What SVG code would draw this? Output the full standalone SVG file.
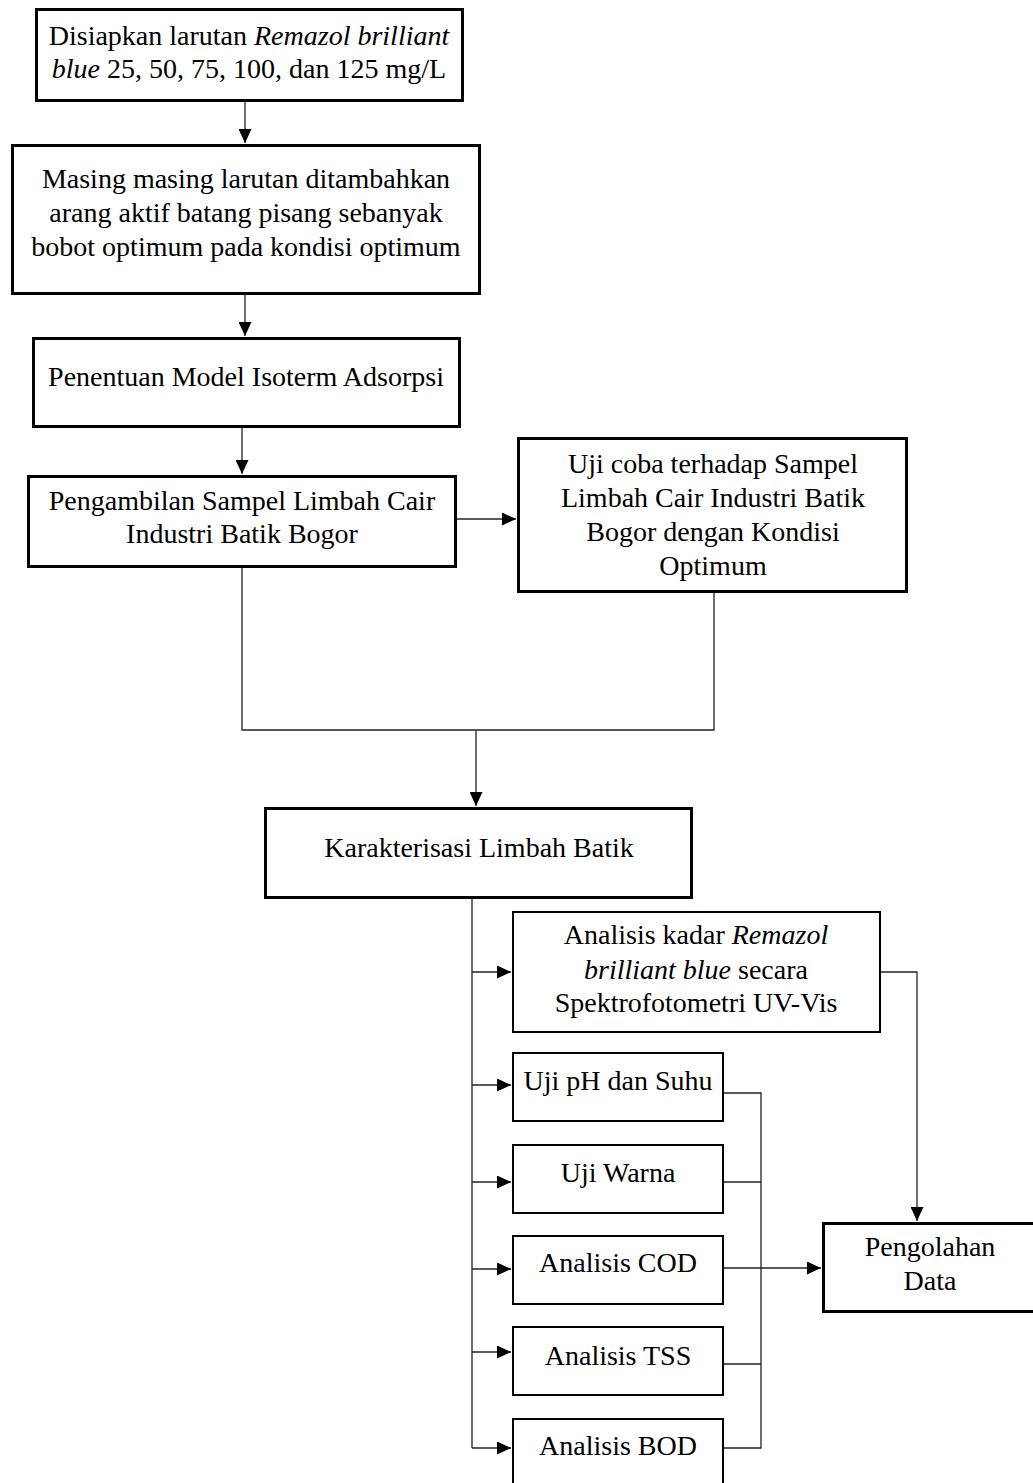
<svg xmlns="http://www.w3.org/2000/svg" width="1033" height="1483" viewBox="0 0 1033 1483">
<style>
.thick{fill:#fff;stroke:#000;stroke-width:3}
.thin{fill:#fff;stroke:#000;stroke-width:2}
.t{font-family:"Liberation Serif","Times New Roman",serif;font-size:28px;fill:#000;text-anchor:middle}
.c{fill:none;stroke:#222;stroke-width:1.3}
</style>
<defs>
<marker id="ah" markerUnits="userSpaceOnUse" markerWidth="15" markerHeight="13" refX="14" refY="6.5" orient="auto">
<path d="M0,0 L14,6.5 L0,13 z" fill="#000"/>
</marker>
</defs>
<rect width="1033" height="1483" fill="#fff"/>
<g id="connectors">
<path class="c" d="M245,102 V143" marker-end="url(#ah)"/>
<path class="c" d="M245,295 V336" marker-end="url(#ah)"/>
<path class="c" d="M242,428 V474" marker-end="url(#ah)"/>
<path class="c" d="M457,519 H516" marker-end="url(#ah)"/>
<path class="c" d="M242,568 V730 H714 V593"/>
<path class="c" d="M476,730 V806" marker-end="url(#ah)"/>
<path class="c" d="M472,899 V1448"/>
<path class="c" d="M472,972 H511" marker-end="url(#ah)"/>
<path class="c" d="M472,1085 H511" marker-end="url(#ah)"/>
<path class="c" d="M472,1182 H511" marker-end="url(#ah)"/>
<path class="c" d="M472,1269 H511" marker-end="url(#ah)"/>
<path class="c" d="M472,1352 H511" marker-end="url(#ah)"/>
<path class="c" d="M472,1448 H511" marker-end="url(#ah)"/>
<path class="c" d="M881,972 H917 V1221" marker-end="url(#ah)"/>
<path class="c" d="M724,1093 H761 V1448 H724"/>
<path class="c" d="M724,1182 H761"/>
<path class="c" d="M724,1364 H761"/>
<path class="c" d="M724,1268 H821" marker-end="url(#ah)"/>
</g>
<g id="n1">
<rect class="thick" x="36.5" y="9.5" width="426" height="91"/>
<text class="t" x="249" y="45">Disiapkan larutan <tspan font-style="italic">Remazol brilliant</tspan></text>
<text class="t" x="249" y="78"><tspan font-style="italic">blue</tspan> 25, 50, 75, 100, dan 125 mg/L</text>
</g>
<g id="n2">
<rect class="thick" x="12.5" y="145.5" width="467" height="148"/>
<text class="t" x="246" y="188">Masing masing larutan ditambahkan</text>
<text class="t" x="246" y="222">arang aktif batang pisang sebanyak</text>
<text class="t" x="246" y="256">bobot optimum pada kondisi optimum</text>
</g>
<g id="n3">
<rect class="thick" x="33.5" y="338.5" width="426" height="88"/>
<text class="t" x="246" y="386">Penentuan Model Isoterm Adsorpsi</text>
</g>
<g id="n4">
<rect class="thick" x="28.5" y="476.5" width="427" height="90"/>
<text class="t" x="242" y="510">Pengambilan Sampel Limbah Cair</text>
<text class="t" x="242" y="543">Industri Batik Bogor</text>
</g>
<g id="n5">
<rect class="thick" x="518.5" y="438.5" width="388" height="153"/>
<text class="t" x="713" y="473">Uji coba terhadap Sampel</text>
<text class="t" x="713" y="507">Limbah Cair Industri Batik</text>
<text class="t" x="713" y="541">Bogor dengan Kondisi</text>
<text class="t" x="713" y="575">Optimum</text>
</g>
<g id="n6">
<rect class="thick" x="265.5" y="808.5" width="426" height="89"/>
<text class="t" x="479" y="857">Karakterisasi Limbah Batik</text>
</g>
<g id="n7">
<rect class="thin" x="513" y="912" width="367" height="120"/>
<text class="t" x="696" y="944">Analisis kadar <tspan font-style="italic">Remazol</tspan></text>
<text class="t" x="696" y="979"><tspan font-style="italic">brilliant blue</tspan> secara</text>
<text class="t" x="696" y="1012">Spektrofotometri UV-Vis</text>
</g>
<g id="n8">
<rect class="thin" x="513" y="1053" width="210" height="68"/>
<text class="t" x="618" y="1090">Uji pH dan Suhu</text>
</g>
<g id="n9">
<rect class="thin" x="513" y="1145" width="210" height="68"/>
<text class="t" x="618" y="1182">Uji Warna</text>
</g>
<g id="n10">
<rect class="thin" x="513" y="1236" width="210" height="68"/>
<text class="t" x="618" y="1272">Analisis COD</text>
</g>
<g id="n11">
<rect class="thin" x="513" y="1327" width="210" height="68"/>
<text class="t" x="618" y="1365">Analisis TSS</text>
</g>
<g id="n12">
<rect class="thin" x="513" y="1419" width="210" height="80"/>
<text class="t" x="618" y="1455">Analisis BOD</text>
</g>
<g id="n13">
<rect class="thick" x="823.5" y="1223.5" width="220" height="88"/>
<text class="t" x="930" y="1256">Pengolahan</text>
<text class="t" x="930" y="1290">Data</text>
</g>
</svg>
